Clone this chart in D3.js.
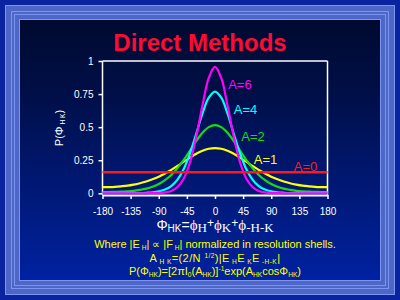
<!DOCTYPE html>
<html><head><meta charset="utf-8">
<script src="https://cdn.jsdelivr.net/npm/d3@7"></script>
<style>html,body{margin:0;padding:0;background:#0a24a0;overflow:hidden}</style>
</head><body><svg id="c" width="400" height="300"></svg>
<script>
// ---- data ----
const phi = [-180,-170,-160,-150,-140,-130,-120,-110,-100,-90,-80,-70,-60,-50,-40,-30,-20,-10,0,10,20,30,40,50,60,70,80,90,100,110,120,130,140,150,160,170,180];
const a1 = [0.046,0.047,0.049,0.053,0.058,0.066,0.076,0.089,0.106,0.126,0.150,0.177,0.207,0.239,0.270,0.299,0.322,0.337,0.342,0.337,0.322,0.299,0.270,0.239,0.207,0.177,0.150,0.126,0.106,0.089,0.076,0.066,0.058,0.053,0.049,0.047,0.046];
const a2 = [0.009,0.010,0.011,0.012,0.015,0.019,0.026,0.035,0.049,0.070,0.099,0.138,0.190,0.253,0.323,0.395,0.457,0.500,0.516,0.500,0.457,0.395,0.323,0.253,0.190,0.138,0.099,0.070,0.049,0.035,0.026,0.019,0.015,0.012,0.011,0.010,0.009];
const a4 = [0,0,0,0,0.001,0.001,0.002,0.004,0.007,0.014,0.028,0.055,0.104,0.184,0.302,0.450,0.604,0.723,0.769,0.723,0.604,0.450,0.302,0.184,0.104,0.055,0.028,0.014,0.007,0.004,0.002,0.001,0.001,0,0,0,0];
const a6 = [0,0,0,0,0,0,0,0,0.001,0.002,0.007,0.018,0.048,0.112,0.235,0.428,0.665,0.872,0.955,0.872,0.665,0.428,0.235,0.112,0.048,0.018,0.007,0.002,0.001,0,0,0,0,0,0,0,0];
const a0Phi = [-180,180];
const a0 = [0.159,0.159];
const seriesNames = ["A=1","A=2","A=4","A=6","A=0"];
const xTicks = [-180,-135,-90,-45,0,45,90,135,180];
const yTicks = [0,0.25,0.5,0.75,1];
const yTickLabels = ["0","0.25","0.5","0.75","1"];

// ---- styling / layout ----
const colors = {"A=1":"#ffff00","A=2":"#14dc14","A=4":"#00ffff","A=6":"#ff00ff","A=0":"#ff1a1a"};
const labelAnchor = {"A=6":[21,0.826],"A=4":[30,0.63],"A=2":[42,0.428],"A=1":[62,0.252],"A=0":[126,0.201]};

const svg = d3.select("#c");
const defs = svg.append("defs");
const g = defs.append("linearGradient").attr("id","bg").attr("x1",0).attr("y1",0).attr("x2",0).attr("y2",1);
g.append("stop").attr("offset","0%").attr("stop-color","#000a30");
g.append("stop").attr("offset","25%").attr("stop-color","#000e44");
g.append("stop").attr("offset","100%").attr("stop-color","#0022a2");

// frame
svg.append("rect").attr("width",400).attr("height",300).attr("fill","#0a24a0");
svg.append("rect").attr("x",5.5).attr("y",5.5).attr("width",389).attr("height",289).attr("fill","#4e66c6").attr("stroke","#7a96f2");
svg.append("rect").attr("x",11.5).attr("y",11.5).attr("width",377).attr("height",277).attr("fill","none").attr("stroke","#7a96f2");
svg.append("rect").attr("x",14.5).attr("y",14.5).attr("width",371).attr("height",271).attr("fill","none").attr("stroke","#7a96f2");
svg.append("rect").attr("x",19.5).attr("y",19.5).attr("width",361).attr("height",261).attr("fill","url(#bg)").attr("stroke","#7a96f2");

// title
svg.append("text").attr("x",200).attr("y",51).attr("text-anchor","middle")
  .attr("font-family","Liberation Sans, Arial, sans-serif").attr("font-weight","bold")
  .attr("font-size",24).attr("fill","#ff0a33").text("Direct Methods");

const x = d3.scaleLinear().domain([-180,180]).range([102.5,327.5]);
const y = d3.scaleLinear().domain([0,1]).range([193.3,61]);

// plot frame (top & right)
svg.append("line").attr("x1",x(-180)).attr("x2",x(180)).attr("y1",y(1)).attr("y2",y(1)).attr("stroke","#fff").attr("stroke-width",1.5);
svg.append("line").attr("x1",x(180)).attr("x2",x(180)).attr("y1",y(1)).attr("y2",195).attr("stroke","#fff").attr("stroke-width",1.5);

const font = "Liberation Sans, Arial, sans-serif";
// axes
const xAxis = svg.append("g").attr("transform","translate(0,195)")
  .call(d3.axisBottom(x).tickValues(xTicks).tickSize(4).tickSizeOuter(0).tickPadding(9).tickFormat(d=>String(d)));
xAxis.select(".domain").attr("stroke","#fff").attr("stroke-width",2);
xAxis.selectAll(".tick line").attr("stroke","#fff").attr("stroke-width",1.5);
xAxis.selectAll("text").attr("fill","#fff").attr("font-family",font).attr("font-size",10);

const yAxis = svg.append("g").attr("transform","translate("+x(-180)+",0)")
  .call(d3.axisLeft(y).tickValues(yTicks).tickSize(4).tickSizeOuter(0).tickPadding(5).tickFormat((d,i)=>yTickLabels[i]));
yAxis.select(".domain").attr("stroke","#fff").attr("stroke-width",1.5).attr("d","M0,"+y(1)+"V195");
yAxis.selectAll(".tick line").attr("stroke","#fff").attr("stroke-width",1.5);
yAxis.selectAll("text").attr("fill","#fff").attr("font-family",font).attr("font-size",10);

// curves
const line = d3.line().x(d=>x(d[0])).y(d=>y(d[1])).curve(d3.curveCatmullRom);
const series = [
  {name:"A=1", xs:phi, vs:a1},
  {name:"A=2", xs:phi, vs:a2},
  {name:"A=4", xs:phi, vs:a4},
  {name:"A=6", xs:phi, vs:a6},
  {name:"A=0", xs:a0Phi, vs:a0}
];
series.forEach(s=>{
  svg.append("path").datum(s.xs.map((p,i)=>[p,s.vs[i]]))
    .attr("d",line).attr("fill","none").attr("stroke",colors[s.name])
    .attr("stroke-width", s.name==="A=0"?2.6:2.2).attr("stroke-linejoin","round");
});
seriesNames.forEach(n=>{
  const a = labelAnchor[n];
  svg.append("text").attr("x",x(a[0])).attr("y",y(a[1])).attr("dominant-baseline","central")
    .attr("font-family",font).attr("font-size",13).attr("fill",colors[n]).text(n);
});

// rich text helper
function rich(parent, xx, yy, segs, size, fill, fam, anchor){
  const t = parent.append("text").attr("x",xx).attr("y",yy).attr("text-anchor",anchor||"middle")
    .attr("font-family",fam).attr("font-size",size).attr("fill",fill);
  let cur = 0;
  segs.forEach(s=>{
    const sp = t.append("tspan");
    let target = 0, fs = s.fs || size;
    if (s.sub){ target = s.off!=null ? s.off : size*0.2; fs = s.fs || size*0.6; }
    if (s.sup){ target = s.off!=null ? s.off : -size*0.35; fs = s.fs || size*0.6; }
    sp.attr("dy", target-cur).attr("font-size",fs);
    if (s.fam) sp.attr("font-family",s.fam);
    sp.text(s.t);
    cur = target;
  });
  return t;
}
const serif = "Liberation Serif, Times New Roman, serif";
// x-axis title
rich(svg, 215, 230, [
  {t:"Φ"},{t:"HK",sub:true,fs:10,off:1.5},{t:"=",fs:14},{t:"ϕ",fam:serif,fs:15},{t:"H",sub:true,fam:serif,fs:13,off:2},
  {t:"+",sup:true,fs:12,off:-3},{t:"ϕ",fam:serif,fs:15},{t:"K",sub:true,fam:serif,fs:13,off:2},
  {t:"+",sup:true,fs:12,off:-3},{t:"ϕ",fam:serif,fs:15},{t:"-H-K",sub:true,fam:serif,fs:13,off:2}
], 14, "#fff", font);

// y-axis title
const yl = svg.append("g").attr("transform","translate(63,128) rotate(-90)");
rich(yl, 0, 0, [{t:"P(Φ"},{t:" H K",sub:true},{t:")"}], 11, "#fff", font);

// bottom notes
const yellow = "#ffff00";
rich(svg, 215, 248, [{t:"Where |E"},{t:" H",sub:true},{t:"| ∝ |F"},{t:" H",sub:true},{t:"| normalized in resolution shells."}], 11, yellow, font);
rich(svg, 215, 261.5, [{t:"A"},{t:" H K",sub:true},{t:"=(2/N "},{t:"1/2",sup:true},{t:")|E"},{t:" H",sub:true},{t:"E"},{t:" K",sub:true},{t:"E"},{t:" -H-K",sub:true},{t:"|"}], 11, yellow, font)
  .attr("letter-spacing", 0.4);
rich(svg, 215, 274.5, [{t:"P(Φ"},{t:"HK",sub:true},{t:")=[2πI"},{t:"0",sub:true},{t:"(A"},{t:"HK",sub:true},{t:")]"},{t:"-1",sup:true},{t:"exp(A"},{t:"HK",sub:true},{t:"cosΦ"},{t:"HK",sub:true},{t:")"}], 11, yellow, font);
</script></body></html>
